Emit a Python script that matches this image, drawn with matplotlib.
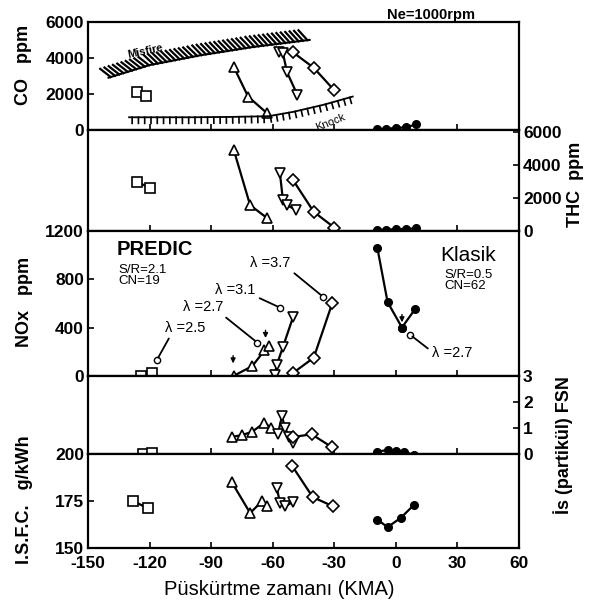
import matplotlib
matplotlib.use("Agg")
import matplotlib.pyplot as plt
import matplotlib.patheffects as pe

plt.rcParams['font.family'] = ['Liberation Sans', 'DejaVu Sans']
plt.rcParams['font.weight'] = 'bold'
plt.rcParams['axes.unicode_minus'] = False

# ---- CO ppm ----
co_sq_x = [-126, -122]
co_sq_y = [2100, 1900]
co_tu_x = [-79, -72, -63]
co_tu_y = [3500, 1850, 950]
co_td_x = [-57, -55, -53, -48]
co_td_y = [4300, 4250, 3200, 1950]
co_di_x = [-50, -40, -30]
co_di_y = [4300, 3450, 2200]
co_ci_x = [-9, -5, 0, 5, 10]
co_ci_y = [50, 60, 100, 150, 300]
misfire_x = [-140, -120, -95, -70, -42]
misfire_y = [2900, 3600, 4150, 4600, 5000]
knock_x = [-130, -100, -80, -62, -50, -35, -21]
knock_y = [700, 700, 720, 760, 1000, 1400, 1850]

# ---- THC ppm ----
thc_sq_x = [-126, -120]
thc_sq_y = [2950, 2600]
thc_tu_x = [-79, -71, -63]
thc_tu_y = [4900, 1550, 800]
thc_td_x = [-56.5, -55, -53, -48.5]
thc_td_y = [3500, 1850, 1550, 1250]
thc_di_x = [-50, -40, -30]
thc_di_y = [3050, 1150, 200]
thc_ci_x = [-9, -5, 0, 5, 10]
thc_ci_y = [60, 70, 100, 120, 150]

# ---- NOx ppm ----
nox_sq_x = [-124, -119]
nox_sq_y = [0, 20]
nox_tu_x = [-79, -70, -64, -62]
nox_tu_y = [0, 80, 210, 250]
nox_td_x = [-59, -58, -55, -50]
nox_td_y = [10, 90, 240, 490]
nox_di_x = [-50, -40, -31]
nox_di_y = [25, 150, 600]
nox_ci_x = [-9, -4, 3]
nox_ci_y = [1060, 610, 400]
nox_ci2_x = [3, 9.5]
nox_ci2_y = [400, 555]
lam_labels = ['λ =2.5', 'λ =2.7', 'λ =3.1', 'λ =3.7', 'λ =2.7']
lam_x = [-116.5, -67.5, -56.5, -35.5, 7]
lam_y = [130, 275, 565, 655, 340]
lam_text_x = [-112.5, -103.5, -88, -71, 17.5]
lam_text_y = [400, 570, 712, 935, 190]
nox_arrow_x = [-79.3, -63.5, 3]
nox_arrow_y = [150, 360, 490]

# ---- Smoke FSN ----
fsn_sq_x = [-123, -119]
fsn_sq_y = [0.0, 0.03]
fsn_tu_x = [-80, -75, -70, -64, -61]
fsn_tu_y = [0.65, 0.72, 0.85, 1.2, 1.0]
fsn_td_x = [-57.5, -55.5, -54, -52, -50]
fsn_td_y = [0.75, 1.45, 1.0, 0.65, 0.4]
fsn_di_x = [-50, -41, -31]
fsn_di_y = [0.65, 0.75, 0.25]
fsn_ci_x = [-9, -4, 0, 4, 9]
fsn_ci_y = [0.08, 0.15, 0.1, 0.08, -0.05]

# ---- ISFC g/kWh ----
isfc_sq_x = [-128, -121]
isfc_sq_y = [175, 171]
isfc_tu_x = [-80, -71, -65, -63]
isfc_tu_y = [185, 168.5, 175, 172]
isfc_td_x = [-58, -56.5, -54, -50]
isfc_td_y = [182, 174, 172, 174.5]
isfc_di_x = [-50.5, -40.5, -30.5]
isfc_di_y = [193.5, 177, 172]
isfc_ci_x = [-9, -4, 2.5, 9]
isfc_ci_y = [165, 161, 166, 173]

x_ticks = [-150, -120, -90, -60, -30, 0, 30, 60]

fig = plt.figure(figsize=(5.91, 6.08), dpi=100)
gs = fig.add_gridspec(5, 1, height_ratios=[108, 101, 145, 78, 94], hspace=0,
                      left=0.149, right=0.878, top=0.964, bottom=0.099)
axes = [fig.add_subplot(gs[i]) for i in range(5)]
co_ax, thc_ax, nox_ax, fsn_ax, isfc_ax = axes

mk = dict(color='black', lw=1.6, markerfacecolor='white', markeredgecolor='black',
          markeredgewidth=1.2)


def draw(ax, sq, tu, td, di, ci):
    ax.plot(*sq, marker='s', ms=7, **mk)
    ax.plot(*tu, marker='^', ms=7.5, **mk)
    ax.plot(*td, marker='v', ms=7.5, **mk)
    ax.plot(*di, marker='D', ms=6, **mk)
    ax.plot(*ci, marker='o', ms=5.5, color='black', lw=1.6)


draw(co_ax, (co_sq_x, co_sq_y), (co_tu_x, co_tu_y), (co_td_x, co_td_y),
     (co_di_x, co_di_y), (co_ci_x, co_ci_y))
draw(thc_ax, (thc_sq_x, thc_sq_y), (thc_tu_x, thc_tu_y), (thc_td_x, thc_td_y),
     (thc_di_x, thc_di_y), (thc_ci_x, thc_ci_y))
draw(nox_ax, (nox_sq_x, nox_sq_y), (nox_tu_x, nox_tu_y), (nox_td_x, nox_td_y),
     (nox_di_x, nox_di_y), (nox_ci_x, nox_ci_y))
nox_ax.plot(nox_ci2_x, nox_ci2_y, marker='o', ms=5.5, color='black', lw=1.6)
draw(fsn_ax, (fsn_sq_x, fsn_sq_y), (fsn_tu_x, fsn_tu_y), (fsn_td_x, fsn_td_y),
     (fsn_di_x, fsn_di_y), (fsn_ci_x, fsn_ci_y))
draw(isfc_ax, (isfc_sq_x, isfc_sq_y), (isfc_tu_x, isfc_tu_y), (isfc_td_x, isfc_td_y),
     (isfc_di_x, isfc_di_y), (isfc_ci_x, isfc_ci_y))

# misfire / knock limits
co_ax.plot(misfire_x, misfire_y, color='black', lw=1.5,
           path_effects=[pe.withTickedStroke(angle=125, spacing=3.2, length=3.0, linewidth=1.6)])
co_ax.plot(knock_x, knock_y, color='black', lw=1.3,
           path_effects=[pe.withTickedStroke(angle=-90, spacing=4.4, length=1.0, linewidth=1.2)])
co_ax.text(-122, 4350, 'Misfire', fontsize=8, rotation=12, ha='center', va='center')
co_ax.text(-32, 420, 'Knock', fontsize=8, rotation=22, ha='center', va='center',
           fontweight='normal')

# lambda labels
relpos = [(0.15, 0.0), (0.9, 0.1), (0.95, 0.1), (0.95, 0.1), (0.0, 0.6)]
for lab, px, py, tx, ty, rp in zip(lam_labels, lam_x, lam_y, lam_text_x, lam_text_y, relpos):
    nox_ax.plot(px, py, marker='o', ms=4.5, markerfacecolor='white', markeredgecolor='black')
    nox_ax.annotate(lab, xy=(px, py), xytext=(tx, ty), fontsize=10.5, fontweight='normal',
                    ha='left', va='center',
                    arrowprops=dict(arrowstyle='-', color='black', lw=1.3, relpos=rp,
                                    shrinkA=1, shrinkB=2))
for ax_x, ax_y in zip(nox_arrow_x, nox_arrow_y):
    nox_ax.annotate('', xy=(ax_x, ax_y - 70), xytext=(ax_x, ax_y + 40),
                    arrowprops=dict(arrowstyle='-|>', color='black', lw=1.0,
                                    mutation_scale=7))

nox_ax.text(-136, 1045, 'PREDIC', fontsize=14.5, ha='left', va='center')
nox_ax.text(-135, 830, 'S/R=2.1\nCN=19', fontsize=9.5, ha='left', va='center',
            linespacing=0.9, fontweight='normal')
nox_ax.text(21.5, 1000, 'Klasik', fontsize=15, ha='left', va='center', fontweight='normal')
nox_ax.text(23.5, 790, 'S/R=0.5\nCN=62', fontsize=9.5, ha='left', va='center',
            linespacing=0.9, fontweight='normal')

# axes styling
limits = [(0, 6000), (0, 6100), (0, 1200), (0, 3), (150, 200)]
yticks = [[0, 2000, 4000, 6000], [0, 2000, 4000, 6000], [0, 400, 800, 1200],
          [0, 1, 2, 3], [150, 175, 200]]
for i, ax in enumerate(axes):
    ax.set_xlim(-150, 60)
    ax.set_ylim(*limits[i])
    ax.set_xticks(x_ticks)
    ax.set_yticks(yticks[i])
    for s in ax.spines.values():
        s.set_linewidth(1.6)
    ax.tick_params(direction='in', length=4, width=1.2, labelsize=12.5, pad=3)
    if i != 4:
        ax.tick_params(labelbottom=False)
    if i in (1, 3):
        ax.yaxis.tick_right()
    else:
        ax.tick_params(right=False)
isfc_ax.tick_params(axis='x', pad=6)

fig.text(0.04, 0.893, 'CO   ppm', rotation=90, ha='center', va='center', fontsize=13)
fig.text(0.973, 0.697, 'THC  ppm', rotation=90, ha='center', va='center', fontsize=13)
fig.text(0.042, 0.503, 'NOx   ppm', rotation=90, ha='center', va='center', fontsize=13)
fig.text(0.953, 0.268, 'İs (partikül) FSN', rotation=90, ha='center', va='center',
         fontsize=13)
fig.text(0.042, 0.178, 'I.S.F.C.   g/kWh', rotation=90, ha='center', va='center',
         fontsize=13)
fig.text(0.472, 0.03, 'Püskürtme zamanı (KMA)', ha='center', va='center', fontsize=14.5,
         fontweight='normal')
fig.text(0.73, 0.975, 'Ne=1000rpm', ha='center', va='center', fontsize=10.5)

fig.savefig('out.png', dpi=100)
